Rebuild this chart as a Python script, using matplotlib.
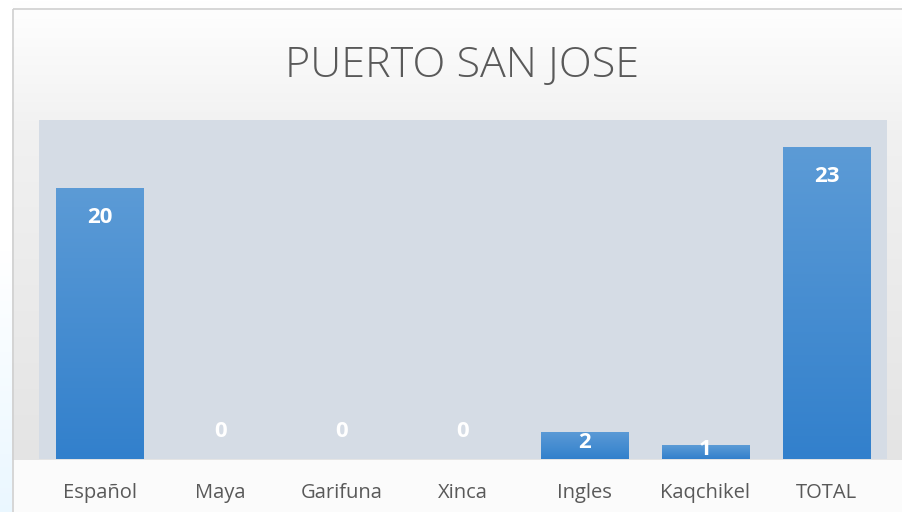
import numpy as np
import matplotlib
matplotlib.use("Agg")
import matplotlib.pyplot as plt
from matplotlib.patches import Rectangle
from matplotlib.colors import LinearSegmentedColormap

categories = ["Español", "Maya", "Garifuna", "Xinca", "Ingles", "Kaqchikel", "TOTAL"]
values = [20, 0, 0, 0, 2, 1, 23]
title = "PUERTO SAN JOSE"

W, H = 902, 512
fig = plt.figure(figsize=(W/100, H/100), dpi=100)
fig.patch.set_facecolor("white")

# card background with soft vertical gradient
bg = fig.add_axes([0, 0, 1, 1], zorder=-10)
bg.set_axis_off()
ys = np.arange(H)
g = np.where(ys < 130, 1 - 0.055 * ys / 130,
             np.where(ys < 460, 0.945 - 0.05 * (ys - 130) / 330, 0.985))
img = np.repeat(g[:, None, None], 3, axis=2) * np.ones((1, W, 1))
t = np.clip((ys - 250) / 260, 0, 1)
img[:, :12, 0] = (1 - 0.08 * t)[:, None]
img[:, :12, 1] = (1 - 0.03 * t)[:, None]
img[:, :12, 2] = 1.0
bg.imshow(img, extent=[0, W, H, 0], aspect="auto")
bg.set_xlim(0, W); bg.set_ylim(H, 0)
bg.add_patch(Rectangle((12.5, 8.5), W, H, fill=False, edgecolor="#D0D0D0", lw=1.2))

ax = fig.add_axes([39/W, 1 - 459/H, (887-39)/W, (459-120)/H])
ax.set_facecolor("#D5DCE5")
x = np.arange(len(categories))
bw = 0.72
bars = ax.bar(x, values, width=bw, color="none", zorder=2)
ax.set_xlim(-0.5, len(categories) - 0.5)
ax.set_ylim(0, 25)

gradimg = np.linspace(0, 1, 256).reshape(-1, 1)
cmap = LinearSegmentedColormap.from_list("b", ["#3280CC", "#5C9BD6"])
for b, v in zip(bars, values):
    if v <= 0:
        continue
    im = ax.imshow(gradimg, cmap=cmap, origin="lower", aspect="auto",
                   extent=[b.get_x(), b.get_x() + b.get_width(), 0, v], zorder=2)
    im.set_clip_path(b)

for xi, v in zip(x, values):
    if v == 0:
        ly = 2.0
    elif v < 4:
        ly = v / 2 + 0.2
    else:
        ly = v - 2.2
    ax.text(xi, ly, str(v), ha="center", va="center", color="white",
            fontsize=16, fontweight="bold", family="Open Sans", zorder=5)

ax.set_xticks(x)
ax.set_xticklabels(categories, fontsize=14.5, color="#595959", family="Open Sans")
ax.tick_params(axis="x", length=0, pad=17)
ax.set_yticks([])
for s in ax.spines.values():
    s.set_visible(False)

fig.text(462/W, 1 - 66/H, title, ha="center", va="center", fontsize=31,
         color="#595959", family="Open Sans", fontweight="light")

fig.savefig("out.png", dpi=100)
